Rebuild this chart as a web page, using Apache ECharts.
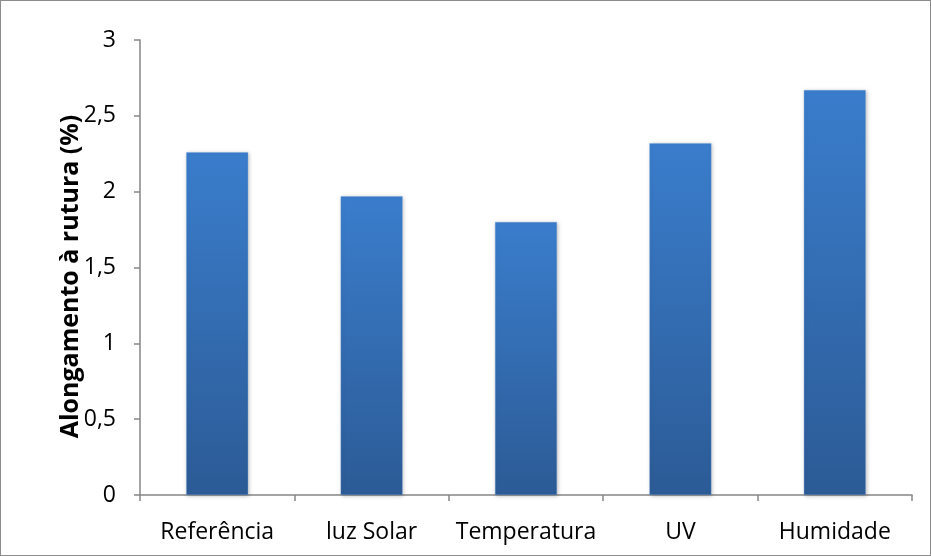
<!DOCTYPE html>
<html><head><meta charset="utf-8">
<script src="https://cdn.jsdelivr.net/npm/echarts@6/dist/echarts.min.js"></script>
<style>html,body{margin:0;padding:0;background:#fff}#c{width:931px;height:556px;box-sizing:border-box;border:1px solid #8c8c8c}</style>
</head><body><div id="c"></div>
<script>
const categories = ['Referência', 'luz Solar', 'Temperatura', 'UV', 'Humidade'];
const values = [2.26, 1.97, 1.80, 2.32, 2.67];
const yTicks = {min: 0, max: 3, interval: 0.5};
const yName = 'Alongamento à rutura (%)';

const chart = echarts.init(document.getElementById('c'));
const font = '"Open Sans", sans-serif';
chart.setOption({
  animation: false,
  grid: {left: 139, right: 18, top: 39, bottom: 60},
  xAxis: {
    type: 'category', data: categories,
    axisLine: {lineStyle: {color: '#868686', width: 1.5}},
    axisTick: {show: true, length: 6, lineStyle: {color: '#868686', width: 1.5}},
    axisLabel: {color: '#000', fontSize: 23, fontFamily: font, margin: 26, interval: 0}
  },
  yAxis: {
    type: 'value', min: yTicks.min, max: yTicks.max, interval: yTicks.interval,
    name: yName, nameLocation: 'middle', nameGap: 57, nameRotate: 90, nameMoveOverlap: false,
    nameTextStyle: {color: '#000', fontSize: 25, fontWeight: 'bold', fontFamily: font, padding: [0, 18, 0, 0]},
    axisLine: {show: true, lineStyle: {color: '#868686', width: 1.5}},
    axisTick: {show: true, length: 6, lineStyle: {color: '#868686', width: 1.5}},
    splitLine: {show: false},
    axisLabel: {color: '#000', fontSize: 23, fontFamily: font, margin: 24,
      formatter: v => String(v).replace('.', ',')}
  },
  series: [{
    type: 'bar', data: values, barWidth: 62,
    itemStyle: {
      color: new echarts.graphic.LinearGradient(0, 0, 0, 1, [
        {offset: 0, color: '#3a7dcc'}, {offset: 1, color: '#2c5b96'}]),
      borderColor: 'rgba(110,160,220,0.6)', borderWidth: 0.5,
      shadowColor: 'rgba(0,0,0,0.25)', shadowBlur: 4, shadowOffsetX: 1, shadowOffsetY: 1
    }
  }]
});
</script></body></html>
